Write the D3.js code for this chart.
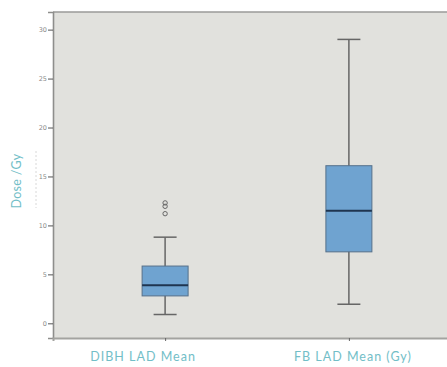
<!DOCTYPE html>
<html>
<head>
<meta charset="utf-8">
<script src="https://cdn.jsdelivr.net/npm/d3@7"></script>
<style>
  body { margin: 0; background: #fff; }
  svg { display: block; }
</style>
</head>
<body>
<svg width="447" height="367"></svg>
<script>
// box plot values (Gy)
var categories = ["DIBH LAD Mean", "FB LAD Mean (Gy)"];
var whiskerLow = [0.9, 1.95];
var q1 = [2.8, 7.3];
var median = [3.9, 11.5];
var q3 = [5.85, 16.1];
var whiskerHigh = [8.8, 29.0];
var outliers = [[11.2, 11.95, 12.3], []];
var yTicks = [0, 5, 10, 15, 20, 25, 30];

var svg = d3.select("svg");
var teal = "#72bec7";

var plot = { left: 53, right: 461, top: 12, bottom: 338 };

var y = d3.scaleLinear()
    .domain([-1.5, 31.8])
    .range([plot.bottom, plot.top]);

var x = d3.scalePoint()
    .domain(categories)
    .range([plot.left, plot.right])
    .padding(0.61);

var boxW = 46, capW = 23;

// plot background
svg.append("rect")
    .attr("x", plot.left)
    .attr("y", plot.top)
    .attr("width", plot.right - plot.left)
    .attr("height", plot.bottom - plot.top)
    .attr("fill", "#e1e1dd");

svg.append("line")
    .attr("x1", plot.left).attr("x2", plot.right)
    .attr("y1", plot.top).attr("y2", plot.top)
    .attr("stroke", "#9a9a98").attr("stroke-width", 1.5);

// y axis
var yAxis = svg.append("g")
    .attr("transform", "translate(" + plot.left + ",0)")
    .call(d3.axisLeft(y).tickValues(yTicks).tickSize(5).tickPadding(1));
yAxis.select(".domain").attr("stroke", "#8e8e8c").attr("stroke-width", 1.6);
yAxis.selectAll(".tick line").attr("stroke", "#555").attr("stroke-width", 1);
yAxis.selectAll(".tick text")
    .attr("fill", "#8a8a8a")
    .style("font-family", "DejaVu Sans")
    .style("font-size", "6.5px");

// x axis
var xAxis = svg.append("g")
    .attr("transform", "translate(0," + plot.bottom + ")")
    .call(d3.axisBottom(x).tickSize(3).tickFormat(""));
xAxis.select(".domain").attr("stroke", "#a3a3a0").attr("stroke-width", 2);
xAxis.selectAll(".tick line").attr("stroke", "#666");

// category labels
svg.selectAll("text.cat")
    .data(categories)
    .enter()
    .append("text")
    .attr("class", "cat")
    .attr("x", function (d, i) { return x(d) + (i == 0 ? -22 : 4); })
    .attr("y", 361)
    .attr("text-anchor", "middle")
    .attr("fill", teal)
    .style("font-family", "Lato")
    .style("font-size", "12.5px")
    .style("letter-spacing", "1px")
    .text(function (d) { return d; });

// y title
svg.append("text")
    .attr("transform", "translate(21,181) rotate(-90)")
    .attr("text-anchor", "middle")
    .attr("fill", teal)
    .style("font-family", "Lato")
    .style("font-size", "12.5px")
    .style("letter-spacing", "0.3px")
    .text("Dose /Gy");

// faint dashed scan line next to the title
svg.append("line")
    .attr("x1", 36).attr("x2", 36)
    .attr("y1", 151).attr("y2", 208)
    .attr("stroke", "#d8d8d8")
    .attr("stroke-dasharray", "2,2");

var boxes = svg.append("g").selectAll("g")
    .data(categories)
    .enter()
    .append("g");

// whiskers
boxes.append("line")
    .attr("x1", function (d) { return x(d); })
    .attr("x2", function (d) { return x(d); })
    .attr("y1", function (d, i) { return y(whiskerLow[i]); })
    .attr("y2", function (d, i) { return y(whiskerHigh[i]); })
    .attr("stroke", "#666")
    .attr("stroke-width", 1.5);

[whiskerLow, whiskerHigh].forEach(function (arr) {
    boxes.append("line")
        .attr("x1", function (d) { return x(d) - capW / 2; })
        .attr("x2", function (d) { return x(d) + capW / 2; })
        .attr("y1", function (d, i) { return y(arr[i]); })
        .attr("y2", function (d, i) { return y(arr[i]); })
        .attr("stroke", "#666")
        .attr("stroke-width", 1.5);
});

// boxes
boxes.append("rect")
    .attr("x", function (d) { return x(d) - boxW / 2; })
    .attr("y", function (d, i) { return y(q3[i]); })
    .attr("width", boxW)
    .attr("height", function (d, i) { return y(q1[i]) - y(q3[i]); })
    .attr("fill", "#6fa3d0")
    .attr("stroke", "#56708a")
    .attr("stroke-width", 1);

// medians
boxes.append("line")
    .attr("x1", function (d) { return x(d) - boxW / 2; })
    .attr("x2", function (d) { return x(d) + boxW / 2; })
    .attr("y1", function (d, i) { return y(median[i]); })
    .attr("y2", function (d, i) { return y(median[i]); })
    .attr("stroke", "#1f3550")
    .attr("stroke-width", 2);

// outliers
boxes.each(function (d, i) {
    d3.select(this).selectAll("circle")
        .data(outliers[i])
        .enter()
        .append("circle")
        .attr("cx", x(d))
        .attr("cy", function (v) { return y(v); })
        .attr("r", 2.2)
        .attr("fill", "none")
        .attr("stroke", "#666")
        .attr("stroke-width", 1);
});
</script>
</body>
</html>
